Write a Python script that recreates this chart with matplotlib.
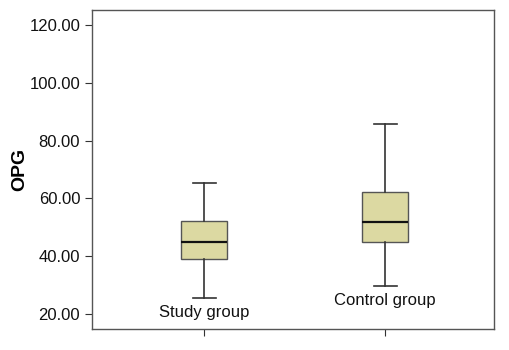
import matplotlib
matplotlib.use("Agg")
import matplotlib.pyplot as plt
from matplotlib.ticker import FormatStrFormatter

groups = ["Study group", "Control group"]
whisker_low = [25.5, 29.7]
q1 = [39.0, 44.9]
median = [44.9, 51.8]
q3 = [52.2, 62.2]
whisker_high = [65.3, 85.7]
yticks = [20, 40, 60, 80, 100, 120]

plt.rcParams['font.family'] = ['Liberation Sans', 'DejaVu Sans']
fig = plt.figure(figsize=(5.1, 3.5), dpi=100)
ax = fig.add_axes([92/510, 1 - 329/350, (494-92)/510, (329-10)/350])

stats = []
for i, g in enumerate(groups):
    stats.append(dict(label=g, whislo=whisker_low[i], q1=q1[i], med=median[i],
                      q3=q3[i], whishi=whisker_high[i], fliers=[]))
positions = [1, 2]
ax.bxp(stats, positions=positions, widths=0.254, patch_artist=True, showfliers=False,
       boxprops=dict(facecolor="#dcd9a2", edgecolor="#555555", linewidth=1.0),
       medianprops=dict(color="#111111", linewidth=1.6),
       whiskerprops=dict(color="#333333", linewidth=1.2),
       capprops=dict(color="#333333", linewidth=1.2),
       capwidths=0.127)

for p, g, lo in zip(positions, groups, whisker_low):
    ax.text(p, lo - 2.3, g, ha="center", va="top", fontsize=12, color="#111111")

ax.set_xlim(0.381, 2.602)
ax.set_ylim(14.8, 125.2)
ax.set_yticks(yticks)
ax.yaxis.set_major_formatter(FormatStrFormatter("%.2f"))
ax.set_xticks(positions)
ax.set_xticklabels([])
ax.tick_params(axis="both", direction="out", length=5, color="#333333", labelsize=12, labelcolor="#111111")
ax.set_ylabel("OPG", fontsize=14, fontweight="bold", labelpad=1)
for s in ax.spines.values():
    s.set_color("#555555")
    s.set_linewidth(1.0)

fig.savefig("out.png", dpi=100)
